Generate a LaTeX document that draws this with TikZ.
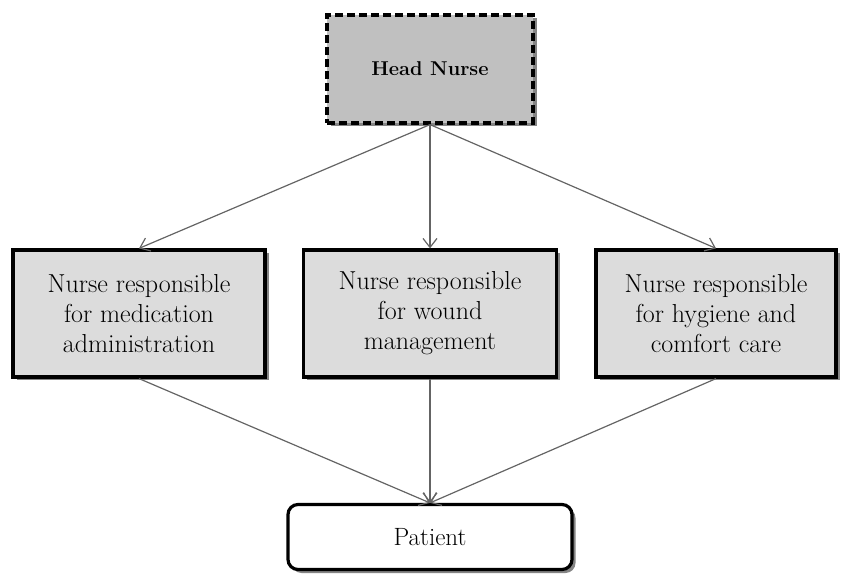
\documentclass[tikz,border=0pt]{standalone}
\usetikzlibrary{arrows.meta, shadows}

\definecolor{headgray}{RGB}{192,192,192}
\definecolor{boxgray}{RGB}{220,220,220}
\definecolor{linkgray}{RGB}{100,100,100}

\tikzset{
	shade box/.style={draw=black, line width=3.2pt, minimum height=127pt, align=center,
		font=\fontsize{26}{30}\selectfont, fill=boxgray,
		drop shadow={shadow xshift=3.5pt, shadow yshift=-3.5pt, fill=black!60, opacity=0.8}},
	head box/.style={shade box, fill=headgray, dashed, dash pattern=on 8pt off 4pt,
		minimum width=206pt, minimum height=108pt, font=\fontsize{20}{24}\selectfont\bfseries},
	patient box/.style={shade box, fill=white, rounded corners=10pt, minimum width=284pt,
		minimum height=65pt, font=\fontsize{25}{28}\selectfont},
	link/.style={draw=linkgray, line width=1.2pt, -{Straight Barb[length=9pt, width=14pt]}}
}

\begin{document}
\begin{tikzpicture}[x=1pt, y=1pt]
		\useasboundingbox (0, 0) rectangle (842, 575);
		\node[head box] (head) at (430, 506) {Head Nurse};
		\node[shade box, minimum width=252pt] (med) at (139, 261.5)
			{Nurse responsible\\for medication\\administration};
		\node[shade box, minimum width=253pt] (wound) at (430, 261.5)
			{Nurse responsible\\for wound\\management};
		\node[shade box, minimum width=240pt] (hyg) at (716, 261.5)
			{Nurse responsible\\for hygiene and\\comfort care};
		\node[patient box] (patient) at (430, 38) {Patient};
		\foreach \n in {med, wound, hyg} {
			\draw[link] (head.south) -- (\n.north);
			\draw[link] (\n.south) -- (patient.north);
		}
	\end{tikzpicture}
\end{document}
